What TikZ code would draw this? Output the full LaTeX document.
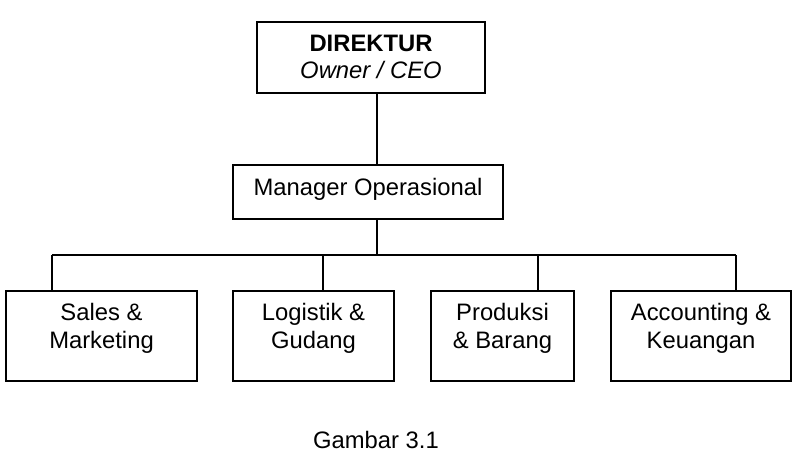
\documentclass[tikz,border=0pt]{standalone}
\usepackage{fontspec}
\setmainfont{Liberation Sans}
\begin{document}
\begin{tikzpicture}[x=1pt,y=1pt,
  box/.style={draw, line width=1.3pt, inner sep=0pt, rectangle},
  lbl/.style={anchor=base, align=center, inner sep=0pt, font=\fontsize{23.8}{28}\selectfont},
  link/.style={draw, line width=1.3pt}]
\useasboundingbox (0,0) rectangle (798,-452);
% boxes
\node[box, minimum width=228pt, minimum height=71pt] (dir) at (371,-57.5) {};
\node[box, minimum width=270pt, minimum height=54pt] (mgr) at (368,-192) {};
\node[box, minimum width=191pt, minimum height=90pt] (sales) at (101.5,-336) {};
\node[box, minimum width=161pt, minimum height=90pt] (log) at (313.5,-336) {};
\node[box, minimum width=143pt, minimum height=90pt] (prod) at (502.5,-336) {};
\node[box, minimum width=180pt, minimum height=90pt] (acc) at (701,-336) {};
% texts (base anchor = baseline of last line)
\node[lbl] (tdir) at (371,-78) {\textbf{DIREKTUR}\\[-1pt]\textit{Owner / CEO}};
\node[lbl] (tmgr) at (368,-195) {Manager Operasional};
\node[lbl] (tsales) at (101.5,-348) {Sales \&\\Marketing};
\node[lbl] (tlog) at (313.5,-348) {Logistik \&\\Gudang};
\node[lbl] (tprod) at (502.5,-348) {Produksi\\\& Barang};
\node[lbl] (tacc) at (701,-348) {Accounting \&\\Keuangan};
\node[lbl] (cap) at (376,-448) {Gambar 3.1};
% connector coordinates
\coordinate (trunk) at (377,-255);
\coordinate (busL) at (52,-255);
\coordinate (busR) at (736,-255);
\coordinate (dL) at (323,-255);
\coordinate (dP) at (538,-255);
% connectors
\draw[link] (dir.south -| trunk) -- (mgr.north -| trunk);
\draw[link] (mgr.south -| trunk) -- (trunk);
\draw[link] (busL) -- (busR);
\draw[link] (busL) -- (sales.north -| busL);
\draw[link] (dL) -- (log.north -| dL);
\draw[link] (dP) -- (prod.north -| dP);
\draw[link] (busR) -- (acc.north -| busR);
\end{tikzpicture}
\end{document}
